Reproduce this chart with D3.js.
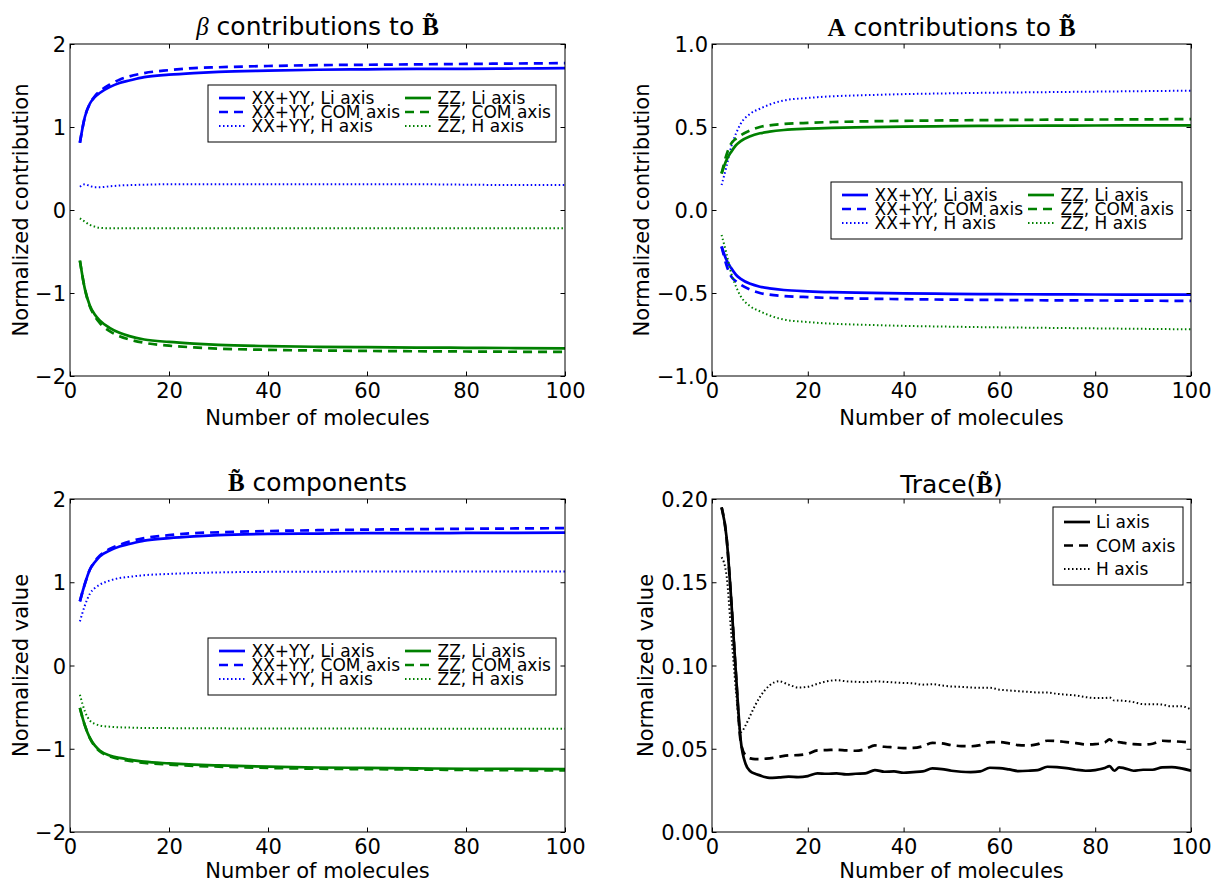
<!DOCTYPE html>
<html><head><meta charset="utf-8">
<script src="https://cdn.jsdelivr.net/npm/d3@7"></script>
<style>
body{margin:0;background:#fff}
svg{display:block}
text{font-family:"DejaVu Sans",sans-serif;fill:#000}
</style>
</head><body>
<svg id="c" width="1212" height="884"></svg>
<script>
// ---------- DATA ----------
const xs = [2,3,4,5,6,8,10,12,15,20,25,30,40,50,60,70,80,90,100];

// Panel 1: beta contributions to B~
const beta_xxyy_li  = [0.81,1.12,1.28,1.36,1.41,1.48,1.53,1.56,1.60,1.63,1.65,1.665,1.68,1.69,1.695,1.70,1.70,1.705,1.71];
const beta_xxyy_com = [0.81,1.12,1.28,1.37,1.43,1.51,1.57,1.61,1.65,1.685,1.71,1.72,1.735,1.745,1.75,1.755,1.76,1.765,1.77];
const beta_xxyy_h   = [0.28,0.31,0.29,0.275,0.275,0.285,0.295,0.30,0.305,0.31,0.31,0.31,0.31,0.31,0.31,0.31,0.305,0.30,0.30];
const beta_zz_li    = [-0.61,-0.95,-1.15,-1.26,-1.33,-1.42,-1.48,-1.52,-1.56,-1.59,-1.61,-1.625,-1.64,-1.648,-1.653,-1.657,-1.66,-1.663,-1.667];
const beta_zz_com   = [-0.61,-0.95,-1.16,-1.28,-1.36,-1.46,-1.52,-1.56,-1.60,-1.635,-1.655,-1.67,-1.685,-1.693,-1.698,-1.702,-1.705,-1.708,-1.71];
const beta_zz_h     = [-0.10,-0.14,-0.18,-0.20,-0.215,-0.22,-0.22,-0.22,-0.22,-0.22,-0.22,-0.22,-0.22,-0.22,-0.22,-0.22,-0.22,-0.22,-0.22];

// Panel 2: A contributions to B~
const a_xxyy_li  = [-0.22,-0.30,-0.35,-0.39,-0.415,-0.445,-0.462,-0.472,-0.482,-0.49,-0.495,-0.498,-0.502,-0.505,-0.507,-0.508,-0.509,-0.51,-0.51];
const a_xxyy_com = [-0.22,-0.33,-0.40,-0.43,-0.45,-0.48,-0.50,-0.51,-0.518,-0.525,-0.53,-0.533,-0.537,-0.54,-0.542,-0.544,-0.545,-0.546,-0.548];
const a_xxyy_h   = [0.15,0.26,0.38,0.46,0.52,0.58,0.61,0.635,0.66,0.675,0.685,0.69,0.698,0.703,0.707,0.71,0.713,0.716,0.719];
const a_zz_li    = [0.22,0.30,0.35,0.39,0.415,0.445,0.462,0.472,0.482,0.49,0.495,0.498,0.502,0.505,0.507,0.508,0.509,0.51,0.51];
const a_zz_com   = [0.22,0.33,0.40,0.43,0.45,0.48,0.50,0.51,0.518,0.525,0.53,0.533,0.537,0.54,0.542,0.544,0.545,0.546,0.548];
const a_zz_h     = [-0.15,-0.26,-0.38,-0.46,-0.52,-0.58,-0.61,-0.635,-0.66,-0.675,-0.685,-0.69,-0.698,-0.703,-0.707,-0.71,-0.713,-0.716,-0.719];

// Panel 3: B~ components
const b_xxyy_li  = [0.77,0.98,1.15,1.24,1.31,1.38,1.43,1.46,1.50,1.53,1.55,1.565,1.58,1.585,1.59,1.59,1.592,1.594,1.595];
const b_xxyy_com = [0.77,0.98,1.15,1.25,1.32,1.40,1.45,1.49,1.53,1.565,1.59,1.60,1.615,1.625,1.632,1.638,1.642,1.646,1.65];
const b_xxyy_h   = [0.53,0.72,0.86,0.93,0.97,1.02,1.05,1.065,1.085,1.10,1.11,1.118,1.125,1.127,1.128,1.128,1.128,1.128,1.128];
const b_zz_li    = [-0.51,-0.72,-0.87,-0.96,-1.02,-1.08,-1.11,-1.13,-1.155,-1.175,-1.19,-1.20,-1.215,-1.225,-1.23,-1.235,-1.24,-1.24,-1.245];
const b_zz_com   = [-0.51,-0.72,-0.87,-0.97,-1.03,-1.09,-1.125,-1.145,-1.17,-1.19,-1.205,-1.215,-1.23,-1.24,-1.245,-1.25,-1.255,-1.258,-1.26];
const b_zz_h     = [-0.35,-0.55,-0.66,-0.70,-0.72,-0.735,-0.742,-0.746,-0.75,-0.752,-0.754,-0.755,-0.756,-0.757,-0.758,-0.759,-0.76,-0.76,-0.76];

// Panel 4: Trace(B~)
const tx = [2,3,4,5,6,7,8,9,10,11,12,14,16,18,20,22,24,26,28,30,32,34,36,38,40,42,44,46,48,50,52,54,56,58,60,62,64,66,68,70,72,74,76,78,80,82,83,84,85,86,88,90,92,94,96,98,100];
const trace_li  = [0.195,0.178,0.14,0.095,0.055,0.041,0.0365,0.035,0.034,0.033,0.0325,0.0328,0.0332,0.033,0.0336,0.0352,0.035,0.0352,0.0346,0.035,0.0352,0.0372,0.0362,0.0364,0.0356,0.036,0.0364,0.0382,0.0378,0.0368,0.0362,0.036,0.0364,0.0386,0.0384,0.0376,0.0366,0.0368,0.0372,0.0392,0.039,0.0384,0.0374,0.0368,0.0372,0.0384,0.0396,0.0368,0.0388,0.0384,0.0368,0.0374,0.0374,0.0388,0.039,0.0382,0.0368];
const trace_com = [0.195,0.178,0.14,0.095,0.054,0.046,0.0442,0.0438,0.0438,0.044,0.0442,0.0452,0.046,0.0462,0.047,0.049,0.0492,0.0494,0.049,0.0488,0.0498,0.052,0.0512,0.0508,0.0504,0.0505,0.0515,0.0535,0.0532,0.0522,0.0516,0.0515,0.0522,0.054,0.054,0.0532,0.0522,0.052,0.0528,0.0548,0.0546,0.054,0.0534,0.0526,0.0528,0.0538,0.0556,0.0535,0.054,0.0535,0.0528,0.0525,0.053,0.0548,0.0545,0.0542,0.0538];
const trace_h   = [0.165,0.155,0.12,0.085,0.06,0.064,0.07,0.076,0.081,0.085,0.088,0.0905,0.0885,0.0868,0.0872,0.089,0.0905,0.0912,0.0905,0.0902,0.09,0.0905,0.0902,0.0898,0.0895,0.0893,0.0885,0.0888,0.088,0.0874,0.0872,0.0868,0.0866,0.0866,0.0855,0.085,0.0846,0.0842,0.0838,0.0838,0.083,0.0825,0.082,0.081,0.0805,0.0805,0.0808,0.079,0.079,0.0788,0.078,0.0768,0.0768,0.0765,0.0755,0.0755,0.0735];

// Ticks & labels
const xTicks = [0,20,40,60,80,100];
const yTicksInt = [-2,-1,0,1,2];
const yTicksA = [-1,-0.5,0,0.5,1];
const yTicksTrace = [0,0.05,0.10,0.15,0.20];
const seriesLabels = ["XX+YY, Li axis","XX+YY, COM axis","XX+YY, H axis","ZZ, Li axis","ZZ, COM axis","ZZ, H axis"];
const traceLabels = ["Li axis","COM axis","H axis"];
const xLabel = "Number of molecules";

// ---------- STYLE ----------
const BLUE = "#0000ff", GREEN = "#008000", BLACK = "#000000";
const DASH = "9,6", DOT = "1.5,2.5";
const sixStyles = [
  {c:BLUE, d:null, w:2.7},{c:BLUE, d:DASH, w:2.7},{c:BLUE, d:DOT, w:2},
  {c:GREEN,d:null, w:2.7},{c:GREEN,d:DASH, w:2.7},{c:GREEN,d:DOT, w:2}
];
const threeStyles = [{c:BLACK,d:null,w:2.7},{c:BLACK,d:DASH,w:2.7},{c:BLACK,d:DOT,w:2}];

const panels = [
  {box:[70,44,565,376], yd:[-2,2], yt:yTicksInt, fmt:d3.format(".0f"), x:xs,
   series:[beta_xxyy_li,beta_xxyy_com,beta_xxyy_h,beta_zz_li,beta_zz_com,beta_zz_h], styles:sixStyles, labels:seriesLabels,
   title:[{t:"β",f:"'Liberation Serif',serif",st:"italic"},{t:" contributions to "},{t:"B\u0303",f:"'Liberation Serif',serif",w:"bold"}], tb:35,
   ylabel:"Normalized contribution", ylx:28, xlb:49, leg:{x:208,y:85,w:348,h:57,cols:2}},
  {box:[712,44,1191,376], yd:[-1,1], yt:yTicksA, fmt:d3.format(".1f"), x:xs,
   series:[a_xxyy_li,a_xxyy_com,a_xxyy_h,a_zz_li,a_zz_com,a_zz_h], styles:sixStyles, labels:seriesLabels,
   title:[{t:"A",f:"'Liberation Serif',serif",w:"bold"},{t:" contributions to "},{t:"B\u0303",f:"'Liberation Serif',serif",w:"bold"}], tb:36,
   ylabel:"Normalized contribution", ylx:649, xlb:49, leg:{x:831,y:182,w:351,h:57,cols:2}},
  {box:[70,499,565,832], yd:[-2,2], yt:yTicksInt, fmt:d3.format(".0f"), x:xs,
   series:[b_xxyy_li,b_xxyy_com,b_xxyy_h,b_zz_li,b_zz_com,b_zz_h], styles:sixStyles, labels:seriesLabels,
   title:[{t:"B\u0303",f:"'Liberation Serif',serif",w:"bold"},{t:" components"}], tb:491,
   ylabel:"Normalized value", ylx:28, xlb:46, leg:{x:208,y:638,w:348,h:57,cols:2}},
  {box:[712,499,1191,832], yd:[0,0.2], yt:yTicksTrace, fmt:d3.format(".2f"), x:tx,
   series:[trace_li,trace_com,trace_h], styles:threeStyles, labels:traceLabels,
   title:[{t:"Trace("},{t:"B\u0303",f:"'Liberation Serif',serif",w:"bold"},{t:")"}], tb:493,
   ylabel:"Normalized value", ylx:653, xlb:46, leg:{x:1053,y:507,w:130,h:78,cols:1}}
];

const svg = d3.select("#c");
svg.append("rect").attr("width",1212).attr("height",884).attr("fill","#fff");

panels.forEach((p,pi)=>{
  const [L,T,R,B] = p.box;
  const x = d3.scaleLinear().domain([0,100]).range([L,R]);
  const y = d3.scaleLinear().domain(p.yd).range([B,T]);
  const g = svg.append("g");
  const cid = "clip"+pi;
  svg.append("defs").append("clipPath").attr("id",cid)
     .append("rect").attr("x",L).attr("y",T).attr("width",R-L).attr("height",B-T);

  // lines
  const line = d3.line().x((d,i)=>x(p.x[i])).y(d=>y(d)).curve(d3.curveMonotoneX);
  const lg = g.append("g").attr("clip-path",`url(#${cid})`);
  p.series.forEach((s,i)=>{
    const st = p.styles[i];
    lg.append("path").attr("d",line(s)).attr("fill","none")
      .attr("stroke",st.c).attr("stroke-width",st.w)
      .attr("stroke-dasharray",st.d).attr("stroke-linejoin","round");
  });

  // axes: ticks inside on all four sides
  const tl = 4.5;
  const axB = d3.axisBottom(x).tickValues(xTicks).tickSize(-tl).tickPadding(9).tickFormat(d3.format("d"));
  const axT = d3.axisTop(x).tickValues(xTicks).tickSize(-tl).tickFormat("");
  const axL = d3.axisLeft(y).tickValues(p.yt).tickSize(-tl).tickPadding(8).tickFormat(p.fmt);
  const axR = d3.axisRight(y).tickValues(p.yt).tickSize(-tl).tickFormat("");
  const style = sel=>{
    sel.select(".domain").remove();
    sel.selectAll(".tick line").attr("stroke","#000").attr("stroke-width",1);
    sel.selectAll(".tick text").attr("font-family","'DejaVu Sans',sans-serif").attr("font-size",21).attr("fill","#000");
  };
  g.append("g").attr("transform",`translate(0,${B})`).call(axB).call(style)
    .selectAll(".tick text").attr("dy",null).attr("y",22);
  g.append("g").attr("transform",`translate(0,${T})`).call(axT).call(style);
  g.append("g").attr("transform",`translate(${L},0)`).call(axL).call(style)
    .selectAll(".tick text").attr("dy","0.36em").attr("x",-4);
  g.append("g").attr("transform",`translate(${R},0)`).call(axR).call(style);

  // frame
  g.append("rect").attr("x",L).attr("y",T).attr("width",R-L).attr("height",B-T)
   .attr("fill","none").attr("stroke","#000").attr("stroke-width",1);

  // title
  const tt = g.append("text").attr("x",(L+R)/2).attr("y",p.tb).attr("text-anchor","middle").attr("font-size",25);
  p.title.forEach(part=>{
    const ts = tt.append("tspan").text(part.t);
    if(part.f) ts.attr("font-family",part.f);
    if(part.st) ts.attr("font-style",part.st);
    if(part.w) ts.attr("font-weight",part.w);
  });

  // axis labels
  g.append("text").attr("x",(L+R)/2).attr("y",B+p.xlb).attr("text-anchor","middle").attr("font-size",21).text(xLabel);
  g.append("text").attr("transform",`translate(${p.ylx},${(T+B)/2}) rotate(-90)`)
   .attr("text-anchor","middle").attr("font-size",21).text(p.ylabel);

  // legend
  const lgd = p.leg;
  const leg = g.append("g");
  leg.append("rect").attr("x",lgd.x).attr("y",lgd.y).attr("width",lgd.w).attr("height",lgd.h)
     .attr("fill","#fff").attr("stroke","#000").attr("stroke-width",1);
  p.labels.forEach((lab,i)=>{
    let hx, hy;
    if(lgd.cols===2){
      const col = Math.floor(i/3), row = i%3;
      hx = lgd.x + 11 + col*186; hy = lgd.y + 13 + row*14;
    } else {
      hx = lgd.x + 11; hy = lgd.y + 15 + i*23.5;
    }
    const st = p.styles[i];
    leg.append("line").attr("x1",hx).attr("x2",hx+26).attr("y1",hy).attr("y2",hy)
       .attr("stroke",st.c).attr("stroke-width",st.w).attr("stroke-dasharray",st.d);
    leg.append("text").attr("x",hx + (lgd.cols===2?32.5:32)).attr("y",hy+6).attr("font-size",17).text(lab);
  });
});
</script>
</body></html>
